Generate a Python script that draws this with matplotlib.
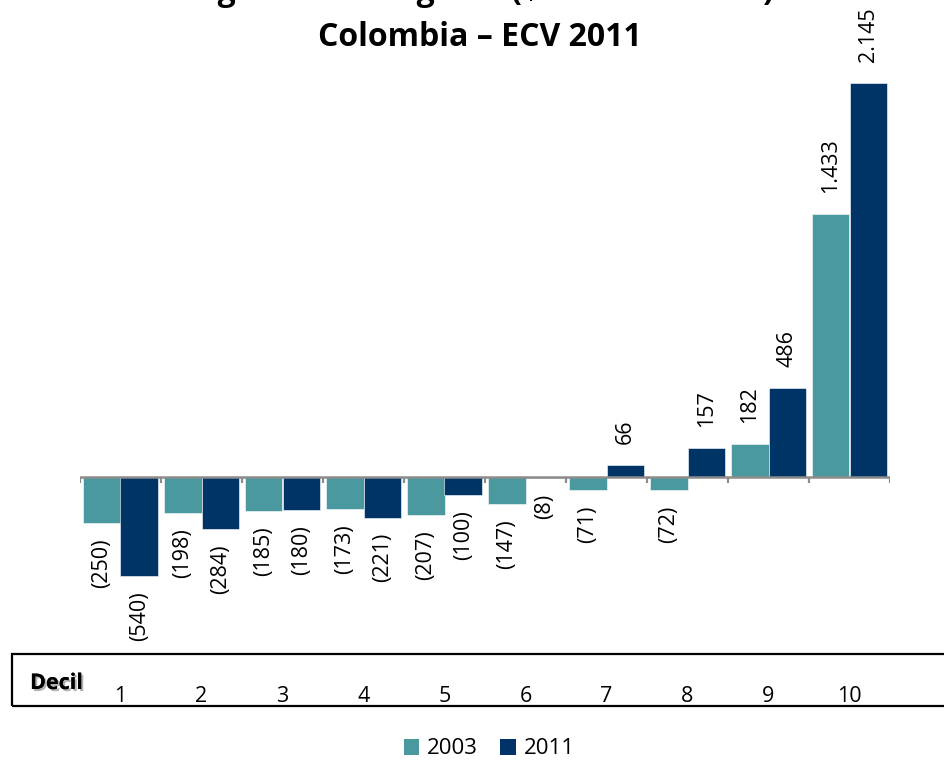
import numpy as np
import matplotlib
matplotlib.use("Agg")
import matplotlib.pyplot as plt
import matplotlib.transforms as mtransforms
import matplotlib.patheffects as pe
from matplotlib.patches import Rectangle, Patch

# ---- data ----
deciles = ["1", "2", "3", "4", "5", "6", "7", "8", "9", "10"]
series_names = ["2003", "2011"]
vals_2003 = [-250, -198, -185, -173, -207, -147, -71, -72, 182, 1433]
vals_2011 = [-540, -284, -180, -221, -100, -8, 66, 157, 486, 2145]
title_line1 = "Ingresos de hogares ($ miles de 2011)"
title_line2 = "Colombia – ECV 2011"
row_label = "Decil"

C2003 = "#4A999F"
C2011 = "#003466"
FONT = ["Open Sans", "DejaVu Sans"]

W, H = 945, 760
fig = plt.figure(figsize=(W / 100, H / 100), dpi=100)

# axes geometry (pixels)
x_left, x_right = 80, 890
y_zero = 477
px_per_unit = (477 - 83) / 2145.0
ymin, ymax = -900, 2450
top_px = y_zero - ymax * px_per_unit
bot_px = y_zero - ymin * px_per_unit
ax = fig.add_axes([x_left / W, 1 - bot_px / H, (x_right - x_left) / W, (bot_px - top_px) / H])
ax.set_xlim(-0.5, len(deciles) - 0.5)
ax.set_ylim(ymin, ymax)
ax.axis("off")

x = np.arange(len(deciles))
bw = 0.466
ax.bar(x - bw / 2, vals_2003, width=bw, color=C2003, edgecolor="white", linewidth=0.4, zorder=2)
ax.bar(x + bw / 2, vals_2011, width=bw, color=C2011, edgecolor="white", linewidth=0.4, zorder=2)

# zero axis line with category ticks
ax.axhline(0, color="#8c8c8c", linewidth=1.8, zorder=3)
bounds = np.arange(len(deciles) + 1) - 0.5
tick_len = 6 / px_per_unit
ax.vlines(bounds, -tick_len, 0, colors="#8c8c8c", linewidth=1.6, zorder=3)

def fmt(v):
    s = f"{abs(v):,}".replace(",", ".")
    return f"({s})" if v < 0 else s

for xs, vals in ((x - bw / 2, vals_2003), (x + bw / 2, vals_2011)):
    for xi, v in zip(xs, vals):
        if v < 0:
            ax.annotate(fmt(v), (xi, v), xytext=(0, -11), textcoords="offset points",
                        rotation=90, ha="center", va="top", fontsize=15.5, family=FONT)
        else:
            ax.annotate(fmt(v), (xi, v), xytext=(0, 15), textcoords="offset points",
                        rotation=90, ha="center", va="bottom", fontsize=15.5, family=FONT)

# title (first line cut at top as in reference)
fig.text(480 / W, 1 - 0.5 / H, title_line1, ha="center", va="baseline",
         fontsize=23, fontweight="bold", family=FONT)
fig.text(480 / W, 1 - 45.5 / H, title_line2, ha="center", va="baseline",
         fontsize=23, fontweight="bold", family=FONT)

# data-table style box with decile labels
box = Rectangle((12 / W, 1 - 706 / H), (W + 20 - 12) / W, (706 - 654) / H,
                transform=fig.transFigure, fill=False, edgecolor="black",
                linewidth=1.6, clip_on=False)
fig.patches.append(box)
fig.text(30 / W, 1 - 689 / H, row_label, ha="left", va="baseline", fontsize=15.5,
         fontweight="bold", family=FONT,
         path_effects=[pe.withSimplePatchShadow(offset=(1.5, -1.5), shadow_rgbFace="gray", alpha=0.6),
                       pe.Normal()])
trans = mtransforms.blended_transform_factory(ax.transData, fig.transFigure)
for xi, lab in zip(x, deciles):
    ax.text(xi, 1 - 702 / H, lab, transform=trans, ha="center", va="baseline",
            fontsize=15.5, family=FONT, clip_on=False)

# legend
handles = [Patch(facecolor=C2003), Patch(facecolor=C2011)]
fig.legend(handles, series_names, loc="center", bbox_to_anchor=(489 / W, 1 - 749 / H),
           ncol=2, frameon=False, prop={"family": FONT, "size": 16},
           handlelength=0.7, handleheight=0.7, handletextpad=0.35, columnspacing=1.0,
           borderpad=0.0)

fig.savefig("out.png", dpi=100)
